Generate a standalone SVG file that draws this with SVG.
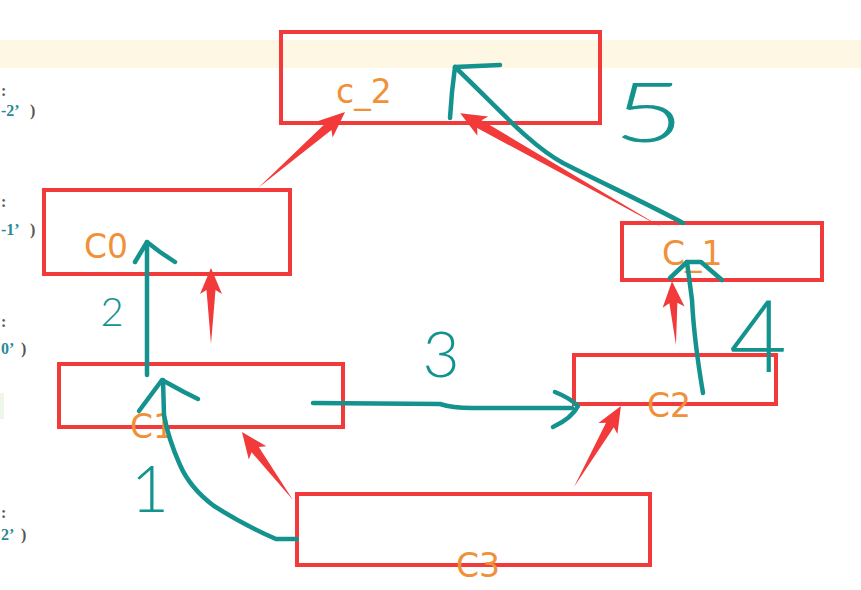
<svg xmlns="http://www.w3.org/2000/svg" width="861" height="590" viewBox="0 0 861 590">
<style>
.box{fill:none;stroke:#f23a3a;stroke-width:4}
.lbl{font-family:"DejaVu Sans",sans-serif;font-size:33px;fill:#f0913a}
.red{fill:#f23a3a;stroke:none}
.pen{fill:none;stroke:#14928e;stroke-width:4.5;stroke-linecap:round;stroke-linejoin:round}
.num{font-family:Lato,"Liberation Sans",sans-serif;font-weight:300;fill:#14928e}
.code{font-family:"Liberation Serif",serif;font-size:16px;font-weight:bold}
.cd{fill:#2a8a96}
.gy{fill:#555}
</style>
<rect x="0" y="0" width="861" height="590" fill="#ffffff"/>
<rect x="0" y="40" width="861" height="28" fill="#fdf7e3"/>
<rect x="0" y="393" width="4" height="26" fill="#eef6ea"/>
<g id="code">
<text class="code gy" x="1" y="96">:</text>
<text class="code" y="116"><tspan class="cd" x="1">-2’</tspan><tspan class="gy" x="30">)</tspan></text>
<text class="code gy" x="1" y="207">:</text>
<text class="code" y="235"><tspan class="cd" x="1">-1’</tspan><tspan class="gy" x="30">)</tspan></text>
<text class="code gy" x="1" y="327">:</text>
<text class="code" y="354"><tspan class="cd" x="1">0’</tspan><tspan class="gy" x="21">)</tspan></text>
<text class="code gy" x="1" y="518">:</text>
<text class="code" y="540"><tspan class="cd" x="1">2’</tspan><tspan class="gy" x="21">)</tspan></text>
</g>
<g id="c_2"><rect class="box" x="281" y="32" width="319" height="91"/><text class="lbl" x="336" y="103">c_2</text></g>
<g id="C0"><rect class="box" x="44" y="190" width="246" height="84"/><text class="lbl" x="84" y="258">C0</text></g>
<g id="C_1"><rect class="box" x="622" y="223" width="200" height="57"/><text class="lbl" x="662" y="265">C_1</text></g>
<g id="C1"><rect class="box" x="59" y="364" width="284" height="63"/><text class="lbl" x="130" y="438">C1</text></g>
<g id="C2"><rect class="box" x="574" y="355" width="202" height="49"/><text class="lbl" x="647" y="417">C2</text></g>
<g id="C3"><rect class="box" x="297" y="494" width="353" height="71"/><text class="lbl" x="456" y="577">C3</text></g>
<g id="connectors">
<path class="red" transform="translate(258,188) rotate(-41.1)" d="M0,0 L93.5,-4.5 L89.5,-11 L115.5,0 L89.5,11 L93.5,4.5Z"/>
<path class="red" transform="translate(663,228) rotate(-150.5)" d="M0,0 L211,-4.5 L207,-11 L233,0 L207,11 L211,4.5Z"/>
<path class="red" transform="translate(211,344) rotate(-90)" d="M0,0 L54,-4.5 L50,-11 L76,0 L50,11 L54,4.5Z"/>
<path class="red" transform="translate(676,345) rotate(-93.6)" d="M0,0 L42,-4 L38,-11 L64,0 L38,11 L42,4Z"/>
<path class="red" transform="translate(293,500) rotate(-126.9)" d="M0,0 L63,-4.5 L59,-11 L85,0 L59,11 L63,4.5Z"/>
<path class="red" transform="translate(574,487) rotate(-59.9)" d="M0,0 L71.6,-4.5 L67.6,-11 L93.6,0 L67.6,11 L71.6,4.5Z"/>
<path class="pen" d="M147,375 L147,242"/>
<path class="pen" d="M135,262 L147,242 L160,252 L175,262"/>
<path class="pen" d="M297,539 L276,539 Q242,524 214,506 Q190,488 180,465 Q168,438 164,415 L163,380"/>
<path class="pen" d="M139,411 L162,380 L184,392 L198,399"/>
<path class="pen" d="M313,403 L440,404 Q452,408 472,408 L572,408"/>
<path class="pen" d="M555,392 Q570,398 578,406 Q572,418 553,427"/>
<path class="pen" d="M683,223 C650,205 600,182 563,163 C530,145 500,110 455,67"/>
<path class="pen" d="M450,118 L452,92 L455,67 L500,65"/>
<path class="pen" d="M703,393 Q694,340 692,300 L687,262"/>
<path class="pen" d="M670,278 L687,262 L701,262 L722,280"/>
</g>
<g id="annotations">
<text class="num" x="112" y="326" font-size="40" text-anchor="middle">2</text>
<text class="num" x="441" y="377" font-size="64" text-anchor="middle">3</text>
<text class="num" x="758" y="372" font-size="100" text-anchor="middle">4</text>
<text class="num" transform="translate(613,142) scale(1.5,1)" x="0" y="0" font-size="82">5</text>
<text class="num" x="150" y="512" font-size="66" text-anchor="middle">1</text>
</g>
</svg>
